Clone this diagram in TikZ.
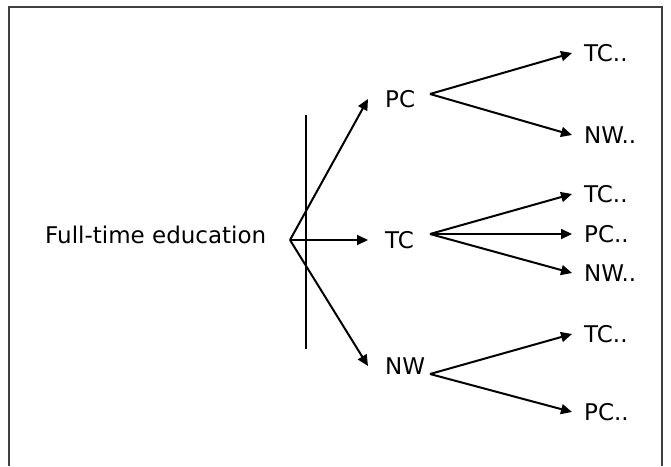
\documentclass[tikz,border=0pt]{standalone}
\usepackage{fontspec}
\setmainfont{DejaVu Sans}
\usetikzlibrary{arrows.meta}
\definecolor{ink}{HTML}{000000}
\definecolor{framegray}{HTML}{404040}
\tikzset{
  lab/.style={font=\fontsize{23}{27}\selectfont, text=ink, inner ysep=0pt},
  mid/.style={lab, anchor=west, inner xsep=17pt},
  leaf/.style={lab, anchor=west, inner xsep=12pt},
  arr/.style={line width=2pt, draw=ink, -{Triangle[length=11pt,width=10pt]}},
  bar/.style={line width=2pt, draw=ink},
  frame/.style={line width=2pt, draw=framegray},
}

\begin{document}
\begin{tikzpicture}[x=1pt, y=-1pt]
  \useasboundingbox (0,0) rectangle (671,466);
  \draw[frame] (9,466) -- (9,7) -- (662,7) -- (662,466);

  \node[lab, anchor=west, inner xsep=0pt] (fte) at (45,235) {Full-time education};
  \coordinate (root) at (290,240);   % fork after the text
  \coordinate (bartop) at (306,115); % vertical bar
  \coordinate (barbot) at (306,349);
  \draw[bar] (bartop) -- (barbot);

  % first choice
  \node[mid] (pc) at (368,99) {PC};
  \node[mid] (tc) at (368,240) {TC};
  \node[mid] (nw) at (368,366) {NW};

  \draw[arr] (root) -- (pc.west);
  \draw[arr] (root) -- (tc.west);
  \draw[arr] (root) -- (nw.west);

  % second choice
  \coordinate (pcfork) at (430,94);
  \coordinate (tcfork) at (430,234);
  \coordinate (nwfork) at (430,374);

  \node[leaf] (pctc) at (572,53) {TC..};
  \node[leaf] (pcnw) at (572,135) {NW..};
  \node[leaf] (tctc) at (572,194) {TC..};
  \node[leaf] (tcpc) at (572,234) {PC..};
  \node[leaf] (tcnw) at (572,273) {NW..};
  \node[leaf] (nwtc) at (572,334) {TC..};
  \node[leaf] (nwpc) at (572,412) {PC..};

  \draw[arr] (pcfork) -- (pctc.west);
  \draw[arr] (pcfork) -- (pcnw.west);
  \draw[arr] (tcfork) -- (tctc.west);
  \draw[arr] (tcfork) -- (tcpc.west);
  \draw[arr] (tcfork) -- (tcnw.west);
  \draw[arr] (nwfork) -- (nwtc.west);
  \draw[arr] (nwfork) -- (nwpc.west);
\end{tikzpicture}
\end{document}
